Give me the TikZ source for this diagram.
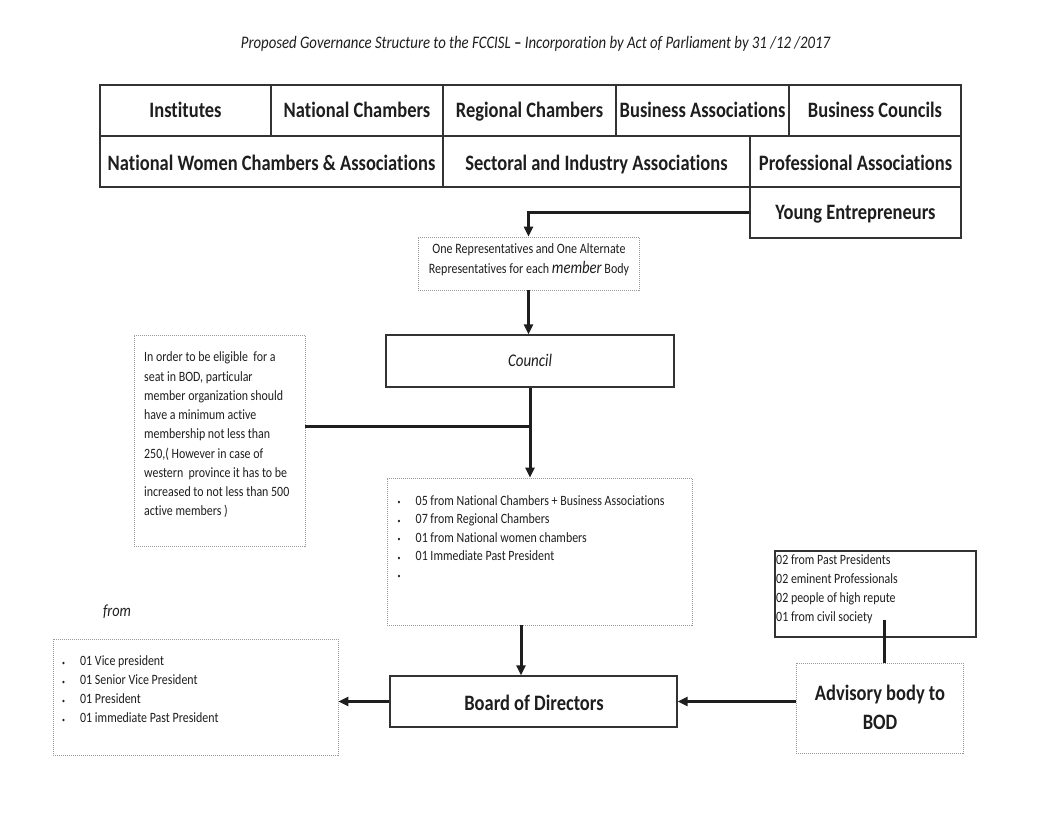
\documentclass[tikz,border=0pt]{standalone}
\usepackage{fontspec}
\setmainfont[FakeStretch=0.84, Ligatures=NoCommon]{Carlito}
\usetikzlibrary{arrows.meta}
\definecolor{ink}{HTML}{1E1E1E}
\definecolor{frame}{HTML}{333333}
\definecolor{dotframe}{HTML}{9A9A9A}
\begin{document}
\begin{tikzpicture}[x=1pt,y=-1pt,
  cell/.style={draw=frame, line width=1.3pt, inner sep=0pt, text=ink,
    font=\fontsize{22}{25}\selectfont\bfseries, text height=14pt, text depth=0pt},
  cellb/.style={cell, text height=17pt},
  solidbox/.style={draw=frame, line width=1.3pt, inner sep=0pt},
  dotbox/.style={draw=dotframe, dash pattern=on 1pt off 1pt, line width=0.9pt, inner sep=0pt},
  txt/.style={inner sep=0pt, text=ink, align=left},
  conn/.style={line width=3pt, draw=ink},
  arr/.style={conn, -{Triangle[length=10pt,width=9pt]}},
  small/.style={font=\fontsize{14.2}{18.5}\selectfont}
]
\useasboundingbox[fill=white] (0,0) rectangle (1054,814);
\newcommand{\bx}[1]{\makebox[18pt][l]{\raisebox{0.5pt}{\fontsize{7}{7}\selectfont\textbullet}}#1}

% title
\node[txt, font=\fontsize{17.6}{20}\selectfont\itshape] (title) at (535.5,44)
  {Proposed Governance Structure to the FCCISL \textbf{\textendash} Incorporation by Act of Parliament by 31 /12 /2017};

% member table
\node[cell, minimum width=171pt, minimum height=51pt] (inst) at (185.5,110.5) {Institutes};
\node[cell, minimum width=172pt, minimum height=51pt] (natch) at (357,110.5) {National Chambers};
\node[cell, minimum width=173pt, minimum height=51pt] (regch) at (529.5,110.5) {Regional Chambers};
\node[cell, minimum width=173pt, minimum height=51pt] (busas) at (702.5,110.5) {Business Associations};
\node[cell, minimum width=172pt, minimum height=51pt] (busco) at (875,110.5) {Business Councils};
\node[cellb, minimum width=343pt, minimum height=51pt] (women) at (271.5,161.5) {National Women Chambers \& Associations};
\node[cellb, minimum width=307pt, minimum height=51pt] (sector) at (596.5,161.5) {Sectoral and Industry Associations};
\node[cellb, minimum width=211pt, minimum height=51pt] (prof) at (855.5,161.5) {Professional Associations};
\node[cell, minimum width=211pt, minimum height=51pt] (young) at (855.5,212.5) {Young Entrepreneurs};

% representatives
\node[dotbox, minimum width=221pt, minimum height=53pt] (rep) at (528.5,263.5) {};
\node[txt, align=center, font=\fontsize{14.3}{20}\selectfont] (reptxt) at (529,260)
  {One Representatives and One Alternate\\Representatives for each {\fontsize{17.5}{20}\selectfont\itshape member} Body};

% council
\node[solidbox, minimum width=288pt, minimum height=52pt] (council) at (530,361) {};
\node[txt, font=\fontsize{17.8}{20}\selectfont\itshape] (counciltxt) at (530,360) {Council};

% eligibility
\node[dotbox, minimum width=171pt, minimum height=211pt] (elig) at (219.5,440.5) {};
\node[txt, anchor=west, font=\fontsize{14.2}{19.25}\selectfont] (eligtxt) at (144,435)
  {In order to be eligible\ \ for a\\seat in BOD, particular\\member organization should\\have a minimum active\\membership not less than\\250,( However in case of\\western\ \ province it has to be\\increased to not less than 500\\active members )};

% BOD composition list
\node[dotbox, minimum width=305pt, minimum height=147pt] (list) at (539.5,551.5) {};
\node[txt, small, anchor=west] (listtxt) at (397.5,540)
  {\bx{05 from National Chambers + Business Associations}\\\bx{07 from Regional Chambers}\\\bx{01 from National women chambers}\\\bx{01 Immediate Past President}\\\bx{\strut}};

% board of directors
\node[solidbox, minimum width=287pt, minimum height=51pt] (bod) at (533.5,701.5) {};
\node[txt, font=\fontsize{22}{26}\selectfont\bfseries] (bodtxt) at (534,703) {Board of Directors};

% office bearers
\node[txt, font=\fontsize{17}{20}\selectfont\itshape] (from) at (117,612) {from};
\node[dotbox, minimum width=285pt, minimum height=116pt] (left) at (195.5,697) {};
\node[txt, anchor=west, font=\fontsize{14.2}{19}\selectfont] (lefttxt) at (62,689.5)
  {\bx{01 Vice president}\\\bx{01 Senior Vice President}\\\bx{01 President}\\\bx{01 immediate Past President}};

% advisory
\node[solidbox, minimum width=201pt, minimum height=86pt] (advlist) at (875.5,594) {};
\node[txt, anchor=west, font=\fontsize{14.2}{19}\selectfont] (advlisttxt) at (776,589.5)
  {02 from Past Presidents\\02 eminent Professionals\\02 people of high repute\\01 from civil society};
\node[dotbox, minimum width=167pt, minimum height=90pt] (adv) at (879.5,708) {};
\node[txt, align=center, font=\fontsize{22}{29}\selectfont\bfseries] (advtxt) at (880,707) {Advisory body to\\BOD};

% connectors
\draw[arr] (young.west) -| (rep.north);
\draw[arr] (rep.south) -- (rep.south |- council.north);
\coordinate (j) at (530,426);
\draw[arr] (council.south) -- (council.south |- list.north);
\draw[conn] (elig.east |- j) -- (j);
\draw[arr] ([xshift=-18.5pt]list.south) -- ([xshift=-18.5pt]list.south |- bod.north);
\draw[arr] (bod.west) -- (bod.west -| left.east);
\draw[arr] (bod.east -| adv.west) -- (bod.east);
\coordinate (s) at (884,620);
\draw[conn] (s) -- (s |- adv.north);
\end{tikzpicture}
\end{document}
